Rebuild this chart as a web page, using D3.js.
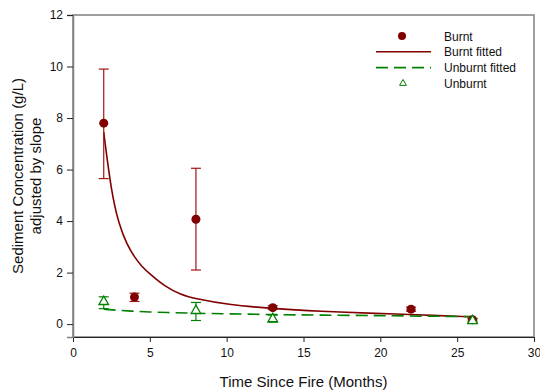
<!DOCTYPE html>
<html>
<head>
<meta charset="UTF-8">
<title>Sediment concentration vs time since fire</title>
<style>
  body { margin: 0; background: #fff; }
  svg text { font-family: "Liberation Sans", Arial, sans-serif; }
</style>
</head>
<body>
<script src="https://d3js.org/d3.v7.min.js"></script>
<script>
// measured points (months, g/L) with error bar ends
var burntX   = [2, 4, 8, 13, 22, 26];
var burntY   = [7.8, 1.05, 4.07, 0.64, 0.58, 0.17];
var burntLo  = [5.65, 0.88, 2.1, 0.57, 0.5, 0.12];
var burntHi  = [9.9, 1.2, 6.05, 0.71, 0.66, 0.22];

var unburntX  = [2, 8, 13, 26];
var unburntY  = [0.87, 0.52, 0.2, 0.13];
var unburntLo = [0.6, 0.14, 0.08, 0.06];
var unburntHi = [1.06, 0.84, 0.35, 0.2];

// fitted curves
var burntFitX = [2, 2.5, 3, 3.5, 4, 4.5, 5, 6, 7, 8, 10, 13, 16, 20, 22, 26];
var burntFitY = [7.45, 5.1, 3.85, 3.1, 2.6, 2.22, 1.95, 1.45, 1.15, 0.98, 0.76, 0.6, 0.5, 0.41, 0.37, 0.28];
var unburntFitX = [2, 3, 4, 5, 6, 8, 10, 13, 16, 20, 23, 26];
var unburntFitY = [0.58, 0.53, 0.5, 0.47, 0.45, 0.42, 0.4, 0.37, 0.35, 0.33, 0.31, 0.29];

var xTicks = [0, 5, 10, 15, 20, 25, 30];
var yTicks = [0, 2, 4, 6, 8, 10, 12];
var legendLabels = ["Burnt", "Burnt fitted", "Unburnt fitted", "Unburnt"];

var W = 540, H = 391;
var margin = { top: 15, right: 6, bottom: 54, left: 73 };
var red = "#800000", redBar = "#a01414", green = "#008000";

var svg = d3.select("body").append("svg")
    .attr("width", W)
    .attr("height", H);

var x = d3.scaleLinear().domain([0, 30]).range([margin.left, W - margin.right]);
var y = d3.scaleLinear().domain([-0.5, 12]).range([H - margin.bottom, margin.top]);

// frame
svg.append("rect")
    .attr("x", x(0)).attr("y", y(12))
    .attr("width", x(30) - x(0)).attr("height", y(-0.5) - y(12))
    .attr("fill", "none").attr("stroke", "#808080").attr("stroke-width", 1.5);

// axes
var xAxis = svg.append("g")
    .attr("transform", "translate(0," + y(-0.5) + ")")
    .call(d3.axisBottom(x).tickValues(xTicks).tickSize(5).tickPadding(6));
var yAxis = svg.append("g")
    .attr("transform", "translate(" + x(0) + ",0)")
    .call(d3.axisLeft(y).tickValues(yTicks).tickSize(6).tickPadding(4));
xAxis.select(".domain").attr("stroke", "#222");
yAxis.select(".domain").attr("stroke", "#808080").attr("stroke-width", 1.5);
svg.selectAll(".tick text").attr("font-size", 12).attr("fill", "#111")
    .attr("font-family", "Liberation Sans, Arial, sans-serif");
svg.selectAll(".tick line").attr("stroke", "#222");

// axis titles
svg.append("text")
    .attr("x", (x(0) + x(30)) / 2).attr("y", 387)
    .attr("text-anchor", "middle").attr("font-size", 15).attr("fill", "#111")
    .text("Time Since Fire (Months)");
var yt = svg.append("text")
    .attr("transform", "translate(0," + ((y(12) + y(-0.5)) / 2) + ") rotate(-90)")
    .attr("text-anchor", "middle").attr("font-size", 15).attr("fill", "#111");
yt.append("tspan").attr("x", 0).attr("y", 23).text("Sediment Concentration (g/L)");
yt.append("tspan").attr("x", 0).attr("y", 41).text("adjusted by slope");

// fitted lines
var line = d3.line().x(d => x(d[0])).y(d => y(d[1])).curve(d3.curveBasis);
svg.append("path")
    .datum(d3.zip(burntFitX, burntFitY))
    .attr("d", line).attr("fill", "none").attr("stroke", red).attr("stroke-width", 1.6);
svg.append("path")
    .datum(d3.zip(unburntFitX, unburntFitY))
    .attr("d", line).attr("fill", "none").attr("stroke", green).attr("stroke-width", 1.6)
    .attr("stroke-dasharray", "12,6");

// error bars
function errorBars(xs, lo, hi, color) {
  var g = svg.append("g").attr("stroke", color).attr("stroke-width", 1.2);
  xs.forEach(function(v, i) {
    g.append("line").attr("x1", x(v)).attr("x2", x(v)).attr("y1", y(lo[i])).attr("y2", y(hi[i]));
    g.append("line").attr("x1", x(v) - 5).attr("x2", x(v) + 5).attr("y1", y(lo[i])).attr("y2", y(lo[i]));
    g.append("line").attr("x1", x(v) - 5).attr("x2", x(v) + 5).attr("y1", y(hi[i])).attr("y2", y(hi[i]));
  });
}
errorBars(burntX, burntLo, burntHi, redBar);
errorBars(unburntX, unburntLo, unburntHi, green);

// markers
svg.append("g").selectAll("circle")
    .data(d3.zip(burntX, burntY))
    .enter().append("circle")
    .attr("cx", d => x(d[0])).attr("cy", d => y(d[1])).attr("r", 4.5)
    .attr("fill", red);

var tri = d3.symbol().type(d3.symbolTriangle).size(40);
svg.append("g").selectAll("path")
    .data(d3.zip(unburntX, unburntY))
    .enter().append("path")
    .attr("d", tri)
    .attr("transform", d => "translate(" + x(d[0]) + "," + y(d[1]) + ")")
    .attr("fill", "#fff").attr("stroke", green).attr("stroke-width", 1.3);

// legend
var lg = svg.append("g").attr("transform", "translate(0,36)");
var rowH = 15.8;
lg.append("circle").attr("cx", 402).attr("cy", 0).attr("r", 4).attr("fill", red);
lg.append("line").attr("x1", 376).attr("x2", 431).attr("y1", rowH).attr("y2", rowH)
    .attr("stroke", red).attr("stroke-width", 1.6);
lg.append("line").attr("x1", 376).attr("x2", 431).attr("y1", rowH * 2).attr("y2", rowH * 2)
    .attr("stroke", green).attr("stroke-width", 1.6).attr("stroke-dasharray", "12,6");
lg.append("path").attr("d", d3.symbol().type(d3.symbolTriangle).size(20))
    .attr("transform", "translate(403," + (rowH * 3) + ")")
    .attr("fill", "#fff").attr("stroke", green).attr("stroke-width", 1);
lg.selectAll("text.lbl")
    .data(legendLabels)
    .enter().append("text")
    .attr("class", "lbl")
    .attr("x", 444).attr("y", (d, i) => i * rowH + 4.5)
    .attr("font-size", 12).attr("fill", "#111")
    .text(d => d);
</script>
</body>
</html>
